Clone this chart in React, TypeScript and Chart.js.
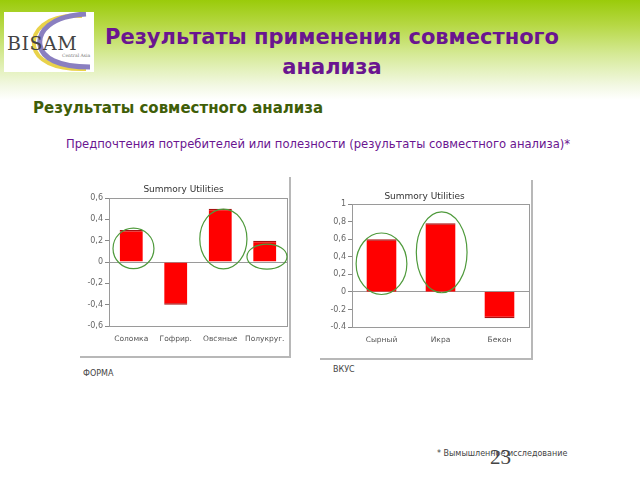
import React, { useEffect, useRef } from "react";
import { Chart, registerables } from "chart.js";

Chart.register(...registerables);

// ---- Data ----
const formCategories = ["Соломка", "Гофрир.", "Овсяные", "Полукруг."];
const formValues = [0.3, -0.4, 0.5, 0.2];
const formTickLabels = ["-0,6", "-0,4", "-0,2", "0", "0,2", "0,4", "0,6"];
// highlighted ellipses: category centre, value centre, radii (category units, value units)
const formEllipseCat = [0.05, 2.07, 3.05];
const formEllipseVal = [0.127, 0.216, 0.05];
const formEllipseRx = [0.46, 0.53, 0.45];
const formEllipseRy = [0.19, 0.28, 0.117];

const tasteCategories = ["Сырный", "Икра", "Бекон"];
const tasteValues = [0.6, 0.78, -0.3];
const tasteTickLabels = ["-0.4", "-0.2", "0", "0,2", "0,4", "0,6", "0,8", "1"];
const tasteEllipseCat = [0.0, 1.02];
const tasteEllipseVal = [0.32, 0.45];
const tasteEllipseRx = [0.43, 0.43];
const tasteEllipseRy = [0.35, 0.46];

const chartTitle = "Summory Utilities";
const FONT = "'DejaVu Sans', sans-serif";

type EllipseSet = { cat: number[]; val: number[]; rx: number[]; ry: number[] };

function makeChart(
  canvas: HTMLCanvasElement,
  labels: string[],
  values: number[],
  tickLabels: string[],
  min: number,
  max: number,
  yWidth: number,
  xHeight: number,
  titlePadTop: number,
  titlePadBottom: number,
  ellipses: EllipseSet,
  barPct: number
) {
  const boxPlugin = {
    id: "boxAndEllipses",
    beforeDatasetsDraw(chart: any) {
      const { ctx, chartArea } = chart;
      ctx.save();
      ctx.strokeStyle = "#9a9a9a";
      ctx.lineWidth = 1;
      ctx.strokeRect(
        Math.round(chartArea.left) + 0.5,
        Math.round(chartArea.top) + 0.5,
        Math.round(chartArea.right - chartArea.left),
        Math.round(chartArea.bottom - chartArea.top)
      );
      ctx.restore();
    },
    afterDatasetsDraw(chart: any) {
      const { ctx } = chart;
      const xs = chart.scales.x;
      const ys = chart.scales.y;
      const catW = xs.getPixelForValue(1) - xs.getPixelForValue(0);
      const unit = ys.getPixelForValue(0) - ys.getPixelForValue(1);
      ctx.save();
      ctx.strokeStyle = "#4f9a3c";
      ctx.lineWidth = 1.2;
      for (let i = 0; i < ellipses.cat.length; i++) {
        const cx = xs.getPixelForValue(ellipses.cat[i]);
        const cy = ys.getPixelForValue(ellipses.val[i]);
        ctx.beginPath();
        ctx.ellipse(cx, cy, ellipses.rx[i] * catW, ellipses.ry[i] * unit, 0, 0, Math.PI * 2);
        ctx.stroke();
      }
      ctx.restore();
    },
  };

  return new Chart(canvas, {
    type: "bar",
    data: {
      labels,
      datasets: [
        {
          data: values,
          backgroundColor: "#ff0000",
          borderColor: "#a81010",
          borderWidth: (c: any) =>
            (c.raw ?? 0) >= 0
              ? { top: 1.5, bottom: 0, left: 0, right: 0 }
              : { top: 0, bottom: 1.5, left: 0, right: 0 },
          borderSkipped: false,
          categoryPercentage: 1,
          barPercentage: barPct,
        },
      ],
    },
    options: {
      responsive: false,
      animation: false,
      layout: { padding: { left: 0, right: 2, top: 0, bottom: 0 } },
      plugins: {
        legend: { display: false },
        tooltip: { enabled: false },
        title: {
          display: true,
          text: chartTitle,
          color: "#333",
          font: { family: FONT, size: 9, weight: "normal" },
          padding: { top: titlePadTop, bottom: titlePadBottom },
        },
      },
      scales: {
        x: {
          type: "category",
          offset: true,
          grid: { display: false, drawTicks: false },
          border: { display: false },
          ticks: {
            color: "#555",
            font: { family: FONT, size: 7.5 },
            padding: 9,
            maxRotation: 0,
            autoSkip: false,
          },
          afterFit: (s: any) => {
            s.height = xHeight;
            s.paddingLeft = 0;
            s.paddingRight = 0;
          },
        },
        y: {
          min,
          max,
          ticks: {
            stepSize: 0.2,
            color: "#666",
            font: { family: FONT, size: 8 },
            padding: 2,
            callback: (_v: any, i: number) => tickLabels[i],
          },
          grid: {
            drawOnChartArea: true,
            drawTicks: true,
            tickLength: 4,
            tickColor: "#888",
            color: (c: any) =>
              c.tick && Math.abs(c.tick.value) < 1e-9 ? "#9a9a9a" : "rgba(0,0,0,0)",
          },
          border: { display: true, color: "#888" },
          afterFit: (s: any) => {
            s.width = yWidth;
          },
        },
      },
    },
    plugins: [boxPlugin],
  } as any);
}

function Logo() {
  return (
    <svg width={90} height={60} style={{ position: "absolute", left: 4, top: 12 }}>
      <rect x={0} y={0} width={90} height={60} fill="#ffffff" />
      <path d="M78 4 C 40 2, 28 20, 30 34 C 32 48, 50 58, 82 57" stroke="#e9d24a" strokeWidth={4} fill="none" />
      <path d="M82 2 C 46 4, 34 20, 36 33 C 38 46, 54 55, 86 55" stroke="#8a7fc0" strokeWidth={5} fill="none" />
      <text x={3} y={38} fontFamily="'DejaVu Serif', serif" fontSize={19} fill="#444" letterSpacing={0.5}>
        BISAM
      </text>
      <text x={58} y={45} fontFamily="'DejaVu Serif', serif" fontSize={4.5} fill="#777">
        Central Asia
      </text>
    </svg>
  );
}

export default function App() {
  const leftRef = useRef<HTMLCanvasElement>(null);
  const rightRef = useRef<HTMLCanvasElement>(null);

  useEffect(() => {
    const c1 = makeChart(
      leftRef.current!,
      formCategories,
      formValues,
      formTickLabels,
      -0.6,
      0.6,
      29,
      30,
      7,
      3.2,
      { cat: formEllipseCat, val: formEllipseVal, rx: formEllipseRx, ry: formEllipseRy },
      0.52
    );
    const c2 = makeChart(
      rightRef.current!,
      tasteCategories,
      tasteValues,
      tasteTickLabels,
      -0.4,
      1,
      32,
      31,
      11,
      2.2,
      { cat: tasteEllipseCat, val: tasteEllipseVal, rx: tasteEllipseRx, ry: tasteEllipseRy },
      0.51
    );
    return () => {
      c1.destroy();
      c2.destroy();
    };
  }, []);

  const small: React.CSSProperties = {
    position: "absolute",
    fontFamily: FONT,
    fontSize: 8,
    color: "#444",
    whiteSpace: "nowrap",
    lineHeight: "10px",
  };

  return (
    <div
      style={{
        position: "fixed",
        left: 0,
        top: 0,
        width: 640,
        height: 480,
        overflow: "hidden",
        background:
          "linear-gradient(to bottom, #9acb0a 0px, #b6d844 25px, #d6ea98 55px, #f2f8e2 85px, #ffffff 100px, #ffffff 480px)",
      }}
    >
      <Logo />
      <div
        style={{
          position: "absolute",
          left: 0,
          width: 664,
          top: 22,
          textAlign: "center",
          fontFamily: FONT,
          fontWeight: "bold",
          fontSize: 21,
          lineHeight: "30px",
          color: "#6a1590",
        }}
      >
        Результаты применения совместного
        <br />
        анализа
      </div>
      <div
        style={{
          position: "absolute",
          left: 33,
          top: 97,
          fontFamily: FONT,
          fontWeight: "bold",
          fontSize: 15,
          lineHeight: "22px",
          color: "#3f5e08",
          whiteSpace: "nowrap",
        }}
      >
        Результаты совместного анализа
      </div>
      <div
        style={{
          position: "absolute",
          left: 66,
          top: 136,
          fontFamily: FONT,
          fontSize: 11.6,
          lineHeight: "16px",
          color: "#6a1590",
          whiteSpace: "nowrap",
        }}
      >
        Предпочтения потребителей или полезности (результаты совместного анализа)*
      </div>

      <div
        style={{
          position: "absolute",
          left: 80,
          top: 177,
          width: 209,
          height: 179,
          borderRight: "2px solid #b8b8b8",
          borderBottom: "2px solid #b8b8b8",
        }}
      >
        <canvas ref={leftRef} width={209} height={179} style={{ display: "block" }} />
      </div>
      <div
        style={{
          position: "absolute",
          left: 320,
          top: 180,
          width: 211,
          height: 178,
          borderRight: "2px solid #b8b8b8",
          borderBottom: "2px solid #b8b8b8",
        }}
      >
        <canvas ref={rightRef} width={211} height={178} style={{ display: "block" }} />
      </div>

      <div style={{ ...small, left: 83, top: 369 }}>ФОРМА</div>
      <div style={{ ...small, left: 333, top: 365 }}>ВКУС</div>
      <div style={{ ...small, left: 437, top: 449 }}>* Вымышленное исследование</div>
      <div
        style={{
          position: "absolute",
          left: 490,
          top: 445,
          fontFamily: "'Liberation Serif', serif",
          fontSize: 21,
          lineHeight: "24px",
          color: "#444",
        }}
      >
        23
      </div>
    </div>
  );
}
